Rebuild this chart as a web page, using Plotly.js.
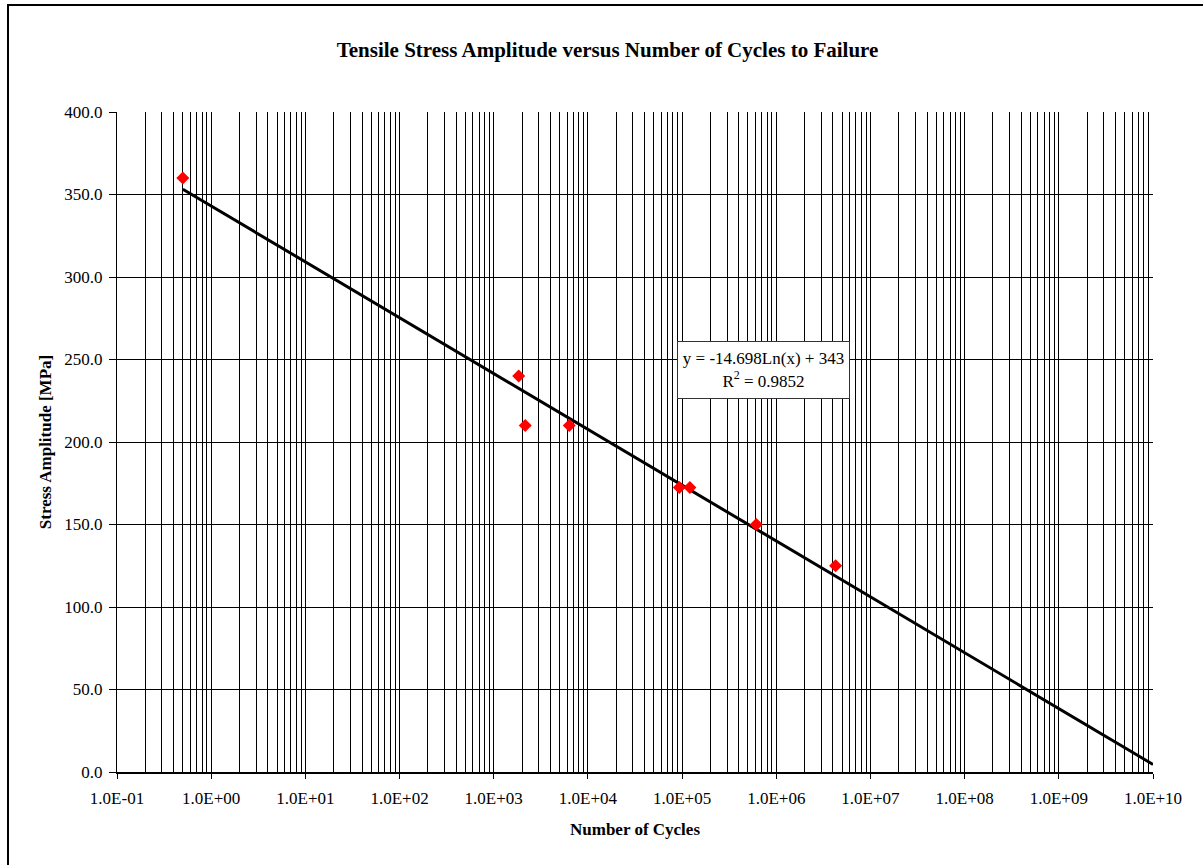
<!DOCTYPE html>
<html>
<head>
<meta charset="utf-8">
<script src="https://cdn.plot.ly/plotly-3.0.1.min.js"></script>
<style>
  html, body { margin: 0; padding: 0; overflow: hidden; background: #fff; }
  #chart { width: 1203px; height: 865px; }
  #frame { position: absolute; left: 7px; top: 4px; width: 1300px; height: 1000px;
           border-left: 2px solid #000; border-top: 2px solid #000; pointer-events: none; }
</style>
</head>
<body>
<div id="chart"></div>
<div id="frame"></div>
<script>
// Measured data (cycles to failure, stress amplitude in MPa)
const cycles = [0.5, 1840, 2160, 6340, 93500, 121000, 614000, 4270000];
const stress = [360, 240, 210, 210, 172.4, 172.4, 150, 125];

// Logarithmic trendline endpoints (y = -14.698 ln(x) + 343)
const trendX = [0.5, 1e10];
const trendY = [353.2, 4.6];

const trendLabel = 'y = -14.698Ln(x) + 343<br>R<sup>2</sup> = 0.9852';

const xTickVals = [1e-1, 1e0, 1e1, 1e2, 1e3, 1e4, 1e5, 1e6, 1e7, 1e8, 1e9, 1e10];
const xTickText = ['1.0E-01','1.0E+00','1.0E+01','1.0E+02','1.0E+03','1.0E+04',
                   '1.0E+05','1.0E+06','1.0E+07','1.0E+08','1.0E+09','1.0E+10'];

const minorVals = [];
for (let e = -1; e < 10; e++) {
  for (let m = 2; m <= 9; m++) minorVals.push(m * Math.pow(10, e));
}

const font = 'Liberation Serif, Times New Roman, serif';

const traces = [
  {
    x: trendX, y: trendY, type: 'scatter', mode: 'lines',
    line: { color: '#000', width: 3 }, hoverinfo: 'skip', showlegend: false
  },
  {
    x: cycles, y: stress, type: 'scatter', mode: 'markers',
    marker: { symbol: 'diamond', size: 10, color: '#ff0000' }, showlegend: false
  }
];

const layout = {
  width: 1203, height: 865,
  margin: { l: 117, r: 50, t: 112, b: 93 },
  paper_bgcolor: '#fff', plot_bgcolor: '#fff',
  font: { family: font, size: 17, color: '#000' },
  title: {
    text: '<b>Tensile Stress Amplitude versus Number of Cycles to Failure</b>',
    font: { family: font, size: 21, color: '#000' },
    xref: 'container', x: 0.505, xanchor: 'center',
    yref: 'container', y: 1 - 50 / 865, yanchor: 'middle'
  },
  xaxis: {
    type: 'log', range: [-1, 10],
    tickmode: 'array', tickvals: xTickVals, ticktext: xTickText,
    ticks: 'outside', ticklen: 5, tickcolor: '#000', tickwidth: 1,
    ticklabelstandoff: 5,
    showgrid: true, gridcolor: '#000', gridwidth: 1,
    minor: { tickmode: 'array', tickvals: minorVals, showgrid: true, gridcolor: '#000', gridwidth: 1, ticks: '' },
    showline: true, linecolor: '#000', linewidth: 2,
    zeroline: false,
    tickfont: { family: font, size: 17, color: '#000' },
    title: { text: '<b>Number of Cycles</b>', font: { family: font, size: 17, color: '#000' }, standoff: 16 }
  },
  yaxis: {
    range: [0, 400], dtick: 50, tick0: 0, tickformat: '.1f',
    ticks: 'outside', ticklen: 7, tickcolor: '#000', tickwidth: 1,
    ticklabelstandoff: 3,
    showgrid: true, gridcolor: '#000', gridwidth: 1,
    showline: true, linecolor: '#000', linewidth: 1,
    zeroline: false,
    tickfont: { family: font, size: 17, color: '#000' },
    title: { text: '<b>Stress Amplitude [MPa]</b>', font: { family: font, size: 17, color: '#000' }, standoff: 8 }
  },
  annotations: [{
    text: trendLabel,
    xref: 'paper', yref: 'paper',
    x: (763.5 - 117) / 1036, y: (771.7 - 370) / 659.4,
    xanchor: 'center', yanchor: 'middle',
    showarrow: false, align: 'center',
    font: { family: font, size: 17, color: '#000' },
    bgcolor: '#fff', bordercolor: '#333', borderwidth: 1, borderpad: 3,
    width: 165, height: 50
  }]
};

Plotly.newPlot('chart', traces, layout, { displayModeBar: false, staticPlot: true });
</script>
</body>
</html>
